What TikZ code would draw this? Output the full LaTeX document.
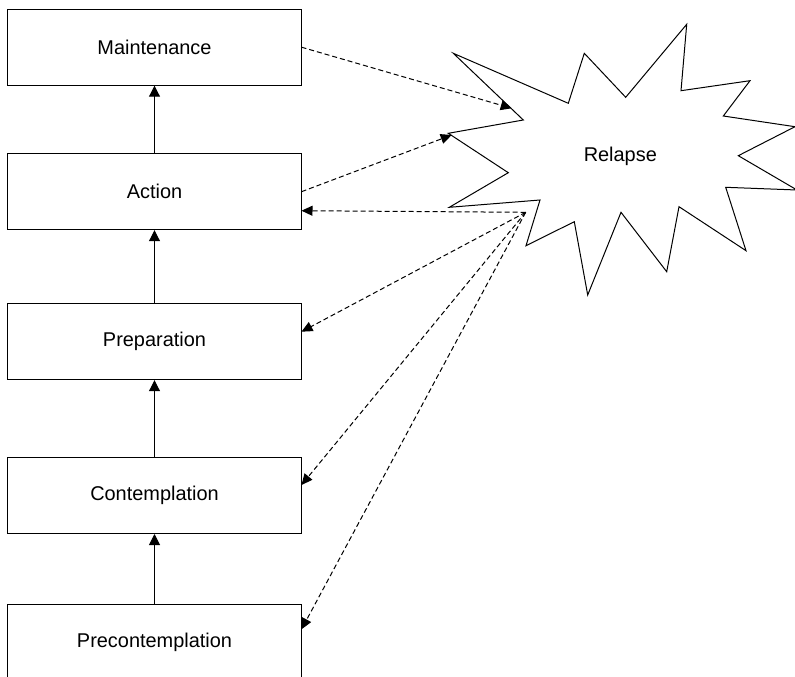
\documentclass[tikz,border=0pt]{standalone}
\usepackage{fontspec}
\setmainfont{Liberation Sans}
\usetikzlibrary{arrows.meta,calc}
\tikzset{
  stagebox/.style={draw, line width=1bp, minimum width=293bp, minimum height=76bp, inner sep=0pt, font=\fontsize{20}{24}\selectfont},
  upconn/.style={line width=1bp, -{Triangle[length=11bp,width=11bp]}},
  relconn/.style={line width=1bp, dash pattern=on 5bp off 3bp, -{Triangle[length=11bp,width=10bp]}},
  starline/.style={line width=1bp, line join=miter}
}
\begin{document}
\begin{tikzpicture}[x=1bp,y=-1bp]
\useasboundingbox (0,0) rectangle (795,677);
\clip (0,0) rectangle (795,677);
% stages
\node[stagebox] (maint) at (154.5,47.2) {Maintenance};
\node[stagebox] (action) at (154.5,191.7) {Action};
\node[stagebox] (prep) at (154.5,341.7) {Preparation};
\node[stagebox] (contemp) at (154.5,495.5) {Contemplation};
\node[stagebox] (precon) at (154.5,642.3) {Precontemplation};
% relapse star
\draw[starline] (453.3,53.3) -- (568.3,103.3) -- (584.3,53.3) -- (625.7,97.3) -- (686.7,24.3) -- (681,90.7) -- (750,80.7) -- (723.3,116) -- (795,126.7) -- (738.3,155.7) -- (797,190) -- (725.7,187.3) -- (746,250.7) -- (679,206.7) -- (666.7,271.7) -- (621,212.3) -- (587.7,295) -- (574.3,221.7) -- (526,245.7) -- (540,200) -- (449.3,207.3) -- (508.3,172.7) -- (448.3,133.3) -- (523.3,120) -- cycle;
\node[font=\fontsize{20}{24}\selectfont] (relapse) at (620.3,156.5) {Relapse};
% anchor points on the star
\coordinate (s1) at (511.7,108.3);
\coordinate (s2) at (451.7,135);
\coordinate (P) at (525.7,212.3);
% progression
\draw[upconn] (precon.north) -- (contemp.south);
\draw[upconn] (contemp.north) -- (prep.south);
\draw[upconn] (prep.north) -- (action.south);
\draw[upconn] (action.north) -- (maint.south);
% relapse connectors
\draw[relconn] (maint.east) -- (s1);
\draw[relconn] (action.east) -- (s2);
\draw[relconn] (P) -- ($(action.east)+(0,19)$);
\draw[relconn] (P) -- ($(prep.east)+(0,-10)$);
\draw[relconn] (P) -- ($(contemp.east)+(0,-10.5)$);
\draw[relconn] (P) -- ($(precon.east)+(0,-13)$);
\end{tikzpicture}
\end{document}
